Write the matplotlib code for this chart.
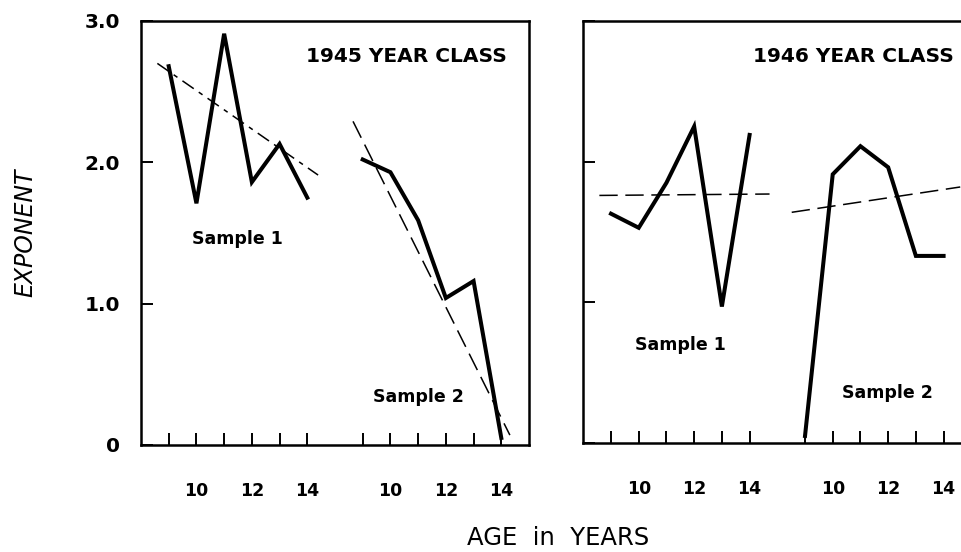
import matplotlib
matplotlib.use('Agg')
import matplotlib.pyplot as plt

# ages sampled in each group
ages = [9, 10, 11, 12, 13, 14]
group_offset = 7  # sample 2 drawn to the right of sample 1

# 1945 year class
exp45_s1 = [2.68, 1.71, 2.91, 1.86, 2.13, 1.75]
exp45_s2 = [2.02, 1.93, 1.59, 1.04, 1.16, 0.05]
trend45_s1_x = [8.59, 14.39]
trend45_s1_y = [2.70, 1.91]
trend45_s2_x = [8.65, 14.31]
trend45_s2_y = [2.29, 0.07]

# 1946 year class
exp46_s1 = [1.63, 1.53, 1.85, 2.25, 0.97, 2.19]
exp46_s2 = [0.05, 1.91, 2.11, 1.96, 1.33, 1.33]
trend46_s1_x = [8.58, 14.72]
trend46_s1_y = [1.76, 1.77]
trend46_s2_x = [8.52, 14.6]
trend46_s2_y = [1.64, 1.82]

tick_ages = [9, 10, 11, 12, 13, 14]
tick_labels = ['', '10', '', '12', '', '14']
ytick_vals = [0, 1.0, 2.0, 3.0]
ytick_labels = ['0', '1.0', '2.0', '3.0']

plt.rcParams['font.family'] = ['DejaVu Sans']
plt.rcParams['font.weight'] = 'bold'

W, H = 961, 552
fig = plt.figure(figsize=(W / 100, H / 100), dpi=100)
ax1 = fig.add_axes([141 / W, 107 / H, 388 / W, 424 / H])
ax2 = fig.add_axes([583.3 / W, 109 / H, 388 / W, 422 / H])


def shift(xs):
    return [x + group_offset for x in xs]


def setup(ax, show_ylabels):
    ax.set_xlim(8, 22)
    ax.set_ylim(0, 3.0)
    for s in ax.spines.values():
        s.set_linewidth(1.8)
    ax.set_xticks(tick_ages + shift(tick_ages))
    ax.set_xticklabels(tick_labels + tick_labels, fontsize=12.5)
    ax.tick_params(axis='x', direction='in', length=8.5, width=1.4, pad=27)
    ax.set_yticks(ytick_vals)
    if show_ylabels:
        ax.set_yticklabels(ytick_labels, fontsize=14.5)
    else:
        ax.set_yticklabels([])
    ax.tick_params(axis='y', direction='in', length=8.5, width=1.4, pad=15)


setup(ax1, True)
setup(ax2, False)

solid = dict(color='black', lw=2.9, solid_joinstyle='miter')
dash = dict(color='black', lw=1.1)

# left panel
ax1.plot(ages, exp45_s1, **solid)
ax1.plot(shift(ages), exp45_s2, **solid)
ax1.plot(trend45_s1_x, trend45_s1_y, dashes=(9, 4, 3, 4), **dash)
ax1.plot(shift(trend45_s2_x), trend45_s2_y, dashes=(12, 5), **dash)

# right panel
ax2.plot(ages, exp46_s1, **solid)
ax2.plot(shift(ages), exp46_s2, **solid)
ax2.plot(trend46_s1_x, trend46_s1_y, dashes=(12, 5), **dash)
ax2.plot(shift(trend46_s2_x), trend46_s2_y, dashes=(12, 5), **dash)

# labels, placed by pixel position on the page
for x, y, s, fs in [(406, 56, '1945 YEAR CLASS', 14.5),
                    (853, 56, '1946 YEAR CLASS', 14.5),
                    (237, 239, 'Sample 1', 12.5), (418, 397, 'Sample 2', 12.5),
                    (680, 345, 'Sample 1', 12.5), (887, 393, 'Sample 2', 12.5)]:
    fig.text(x / W, 1 - y / H, s, fontsize=fs, ha='center', va='center')

fig.text(25 / W, 1 - 233 / H, 'EXPONENT', rotation=90, style='italic',
         fontweight='normal', fontsize=17, ha='center', va='center')
fig.text(558 / W, 1 - 538 / H, 'AGE  in  YEARS', fontsize=17.5,
         fontweight='normal', ha='center', va='center')

fig.savefig('out.png', dpi=100)
